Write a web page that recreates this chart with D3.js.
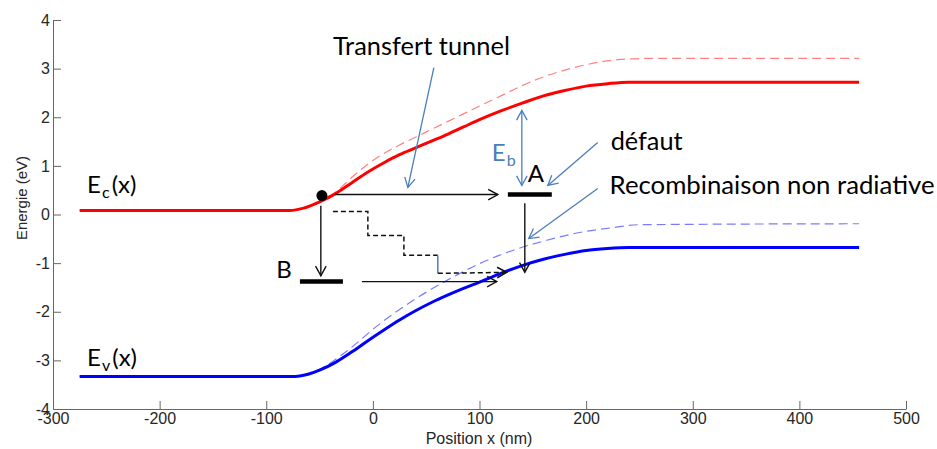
<!DOCTYPE html>
<html>
<head>
<meta charset="utf-8">
<script src="https://cdn.jsdelivr.net/npm/d3@7"></script>
<style>
  body { margin: 0; background: #fff; }
  svg { display: block; }
</style>
</head>
<body>
<svg id="chart" width="937" height="449"></svg>
<script>
// band edges (position in nm, energy in eV)
const ecPos = [-275, -78, -65, -50, -35, -20, -5, 10, 25, 40, 55, 70, 85, 100, 120, 140, 160, 180, 200, 220, 240, 456]
const ecVal = [0.08, 0.08, 0.13, 0.26, 0.43, 0.65, 0.87, 1.06, 1.23, 1.37, 1.51, 1.65, 1.80, 1.95, 2.13, 2.29, 2.44, 2.55, 2.64, 2.69, 2.72, 2.72]

const ecDashPos = [-275, -78, -65, -47, -35, -20, -5, 10, 25, 40, 55, 70, 85, 100, 120, 140, 160, 180, 200, 220, 240, 260, 456]
const ecDashVal = [0.08, 0.08, 0.13, 0.30, 0.46, 0.76, 1.03, 1.25, 1.43, 1.59, 1.75, 1.91, 2.07, 2.23, 2.44, 2.65, 2.83, 2.97, 3.08, 3.16, 3.20, 3.21, 3.21]

const evPos = [-275, -73, -60, -50, -35, -20, -5, 10, 25, 40, 55, 70, 85, 100, 120, 140, 160, 180, 200, 220, 240, 456]
const evVal = [-3.33, -3.33, -3.28, -3.20, -3.04, -2.83, -2.60, -2.38, -2.17, -1.98, -1.81, -1.66, -1.52, -1.39, -1.21, -1.05, -0.92, -0.82, -0.74, -0.70, -0.68, -0.68]

const evDashPos = [-275, -73, -60, -47, -24, 7, 37.5, 69, 100, 131, 163, 194, 225, 250, 456]
const evDashVal = [-3.33, -3.33, -3.27, -3.15, -2.80, -2.24, -1.77, -1.36, -1.01, -0.74, -0.53, -0.37, -0.27, -0.21, -0.19]

const xTicks = [-300, -200, -100, 0, 100, 200, 300, 400, 500]
const yTicks = [-4, -3, -2, -1, 0, 1, 2, 3, 4]

// annotation geometry, in data units
const ball = [-47.8, 0.39]
const levelA = [[126.6, 0.41], [167.8, 0.41]]
const levelB = [[-68.4, -1.38], [-28.1, -1.38]]
const blackArrows = [
  [[-35.6, 0.41], [117.2, 0.41]],     // tunnel to A
  [[-48.8, 0.18], [-48.8, -1.26]],    // down to B
  [[142.5, 0.23], [142.5, -1.19]],    // A down to Ev
  [[-10.3, -1.38], [116.2, -1.38]]    // B to Ev
]
const stairs = [[-37.5, 0.06], [-4.7, 0.06], [-4.7, -0.43], [29.1, -0.43], [29.1, -0.84], [60.9, -0.84]]
const stairsEnd = [[60.9, -1.21], [125.6, -1.19]]
const stairsBlue = [[60.9, -0.84], [60.9, -1.21]]
const pointers = [
  [[57.2, 3.02], [32.8, 0.556]],
  [[210.9, 1.48], [164.1, 0.597]],
  [[210.9, 0.535], [146.2, -0.494]]
]
const ebArrow = [[139.7, 2.14], [139.7, 0.597]]

const svg = d3.select("#chart")
const x = d3.scaleLinear().domain([-300, 500]).range([53, 906])
const y = d3.scaleLinear().domain([-4, 4]).range([409, 20])

const axisColor = "#666"
const textColor = "#262626"
const blue = "#4a7ebb"
const axisFont = "'Liberation Sans', Arial, sans-serif"

// axes, left and bottom only
svg.append("g")
  .attr("transform", "translate(0,409)")
  .call(d3.axisBottom(x).tickValues(xTicks).tickFormat(d => String(d))
    .tickSizeInner(-8).tickSizeOuter(0))
  .call(g => {
    g.select(".domain").attr("stroke", axisColor)
    g.selectAll(".tick line").attr("stroke", axisColor)
    g.selectAll(".tick text").attr("fill", textColor)
      .attr("font-family", axisFont).attr("font-size", 16)
      .attr("dy", "0.71em").attr("y", 4)
  })

svg.append("g")
  .attr("transform", "translate(53,0)")
  .call(d3.axisLeft(y).tickValues(yTicks).tickFormat(d => String(d))
    .tickSizeInner(-8).tickSizeOuter(0))
  .call(g => {
    g.select(".domain").attr("stroke", axisColor)
    g.selectAll(".tick line").attr("stroke", axisColor)
    g.selectAll(".tick text").attr("fill", textColor)
      .attr("font-family", axisFont).attr("font-size", 16)
      .attr("x", -3)
  })

svg.append("text")
  .attr("transform", "translate(27,198) rotate(-90)")
  .attr("text-anchor", "middle")
  .attr("fill", textColor)
  .attr("font-family", axisFont).attr("font-size", 15)
  .text("Energie (eV)")

svg.append("text")
  .attr("x", 479).attr("y", 444)
  .attr("text-anchor", "middle")
  .attr("fill", textColor)
  .attr("font-family", axisFont).attr("font-size", 16)
  .text("Position x (nm)")

// band curves
const line = d3.line().x(d => x(d[0])).y(d => y(d[1])).curve(d3.curveMonotoneX)
const zip = (a, b) => a.map((v, i) => [v, b[i]])

svg.append("path").datum(zip(ecDashPos, ecDashVal))
  .attr("d", line).attr("fill", "none")
  .attr("stroke", "#ff8080").attr("stroke-width", 1.2).attr("stroke-dasharray", "9,5")
svg.append("path").datum(zip(evDashPos, evDashVal))
  .attr("d", line).attr("fill", "none")
  .attr("stroke", "#7a7aff").attr("stroke-width", 1.2).attr("stroke-dasharray", "9,5")
svg.append("path").datum(zip(ecPos, ecVal))
  .attr("d", line).attr("fill", "none")
  .attr("stroke", "#ff0000").attr("stroke-width", 3)
svg.append("path").datum(zip(evPos, evVal))
  .attr("d", line).attr("fill", "none")
  .attr("stroke", "#0000ff").attr("stroke-width", 3)

// helpers for the annotation arrows
function head(g, p, q, color, w) {
  let x1 = x(p[0]), y1 = y(p[1]), x2 = x(q[0]), y2 = y(q[1])
  let a = Math.atan2(y2 - y1, x2 - x1), len = 11, s = 0.5
  let pa = [x2 - len * Math.cos(a - s), y2 - len * Math.sin(a - s)]
  let pb = [x2 - len * Math.cos(a + s), y2 - len * Math.sin(a + s)]
  g.append("path")
    .attr("d", `M${pa[0]},${pa[1]}L${x2},${y2}L${pb[0]},${pb[1]}`)
    .attr("fill", "none").attr("stroke", color).attr("stroke-width", w)
}
function arrow(g, seg, color, w, both) {
  g.append("line")
    .attr("x1", x(seg[0][0])).attr("y1", y(seg[0][1]))
    .attr("x2", x(seg[1][0])).attr("y2", y(seg[1][1]))
    .attr("stroke", color).attr("stroke-width", w)
  head(g, seg[0], seg[1], color, w)
  if (both) head(g, seg[1], seg[0], color, w)
}

const ann = svg.append("g")
const flat = d3.line().x(d => x(d[0])).y(d => y(d[1]))

ann.append("path").datum(stairs).attr("d", flat)
  .attr("fill", "none").attr("stroke", "#111").attr("stroke-width", 1.5).attr("stroke-dasharray", "5,3")
ann.append("path").datum(stairsBlue).attr("d", flat)
  .attr("fill", "none").attr("stroke", blue).attr("stroke-width", 1.5)
ann.append("path").datum(stairsEnd).attr("d", flat)
  .attr("fill", "none").attr("stroke", "#111").attr("stroke-width", 1.5).attr("stroke-dasharray", "5,3")
head(ann, stairsEnd[0], stairsEnd[1], "#111", 1.5)

blackArrows.forEach(s => arrow(ann, s, "#111", 1.4, false))
pointers.forEach(s => arrow(ann, s, blue, 1.3, false))
arrow(ann, ebArrow, blue, 1.3, true)

;[levelA, levelB].forEach(l => {
  ann.append("path").datum(l).attr("d", flat)
    .attr("stroke", "#000").attr("stroke-width", 4.5)
})

ann.append("circle")
  .attr("cx", x(ball[0])).attr("cy", y(ball[1])).attr("r", 5.5)
  .attr("fill", "#000")

// labels
const lab = "Lato, 'Open Sans', sans-serif"
function label(pos, txt, size, width, anchor) {
  let t = svg.append("text")
    .attr("x", x(pos[0])).attr("y", y(pos[1]))
    .attr("text-anchor", anchor || "start")
    .attr("fill", "#000")
    .style("font-family", lab).style("font-size", size + "px")
    .text(txt)
  if (width) t.attr("textLength", width).attr("lengthAdjust", "spacingAndGlyphs")
  return t
}
label([-37.5, 3.29], "Transfert tunnel", 25, 177)
label([223, 1.32], "défaut", 25, 72)
label([222, 0.43], "Recombinaison non radiative", 25, 325)
label([152.8, 0.66], "A", 24, null, "middle")
label([-83.4, -1.30], "B", 24, null, "middle")

function subLabel(pos, main, sub, rest, color) {
  let t = svg.append("text")
    .attr("x", x(pos[0])).attr("y", y(pos[1]))
    .attr("fill", color)
    .style("font-family", lab).style("font-size", "24px")
  t.append("tspan").text(main)
  t.append("tspan").attr("dy", 5).attr("dx", 1).style("font-size", "16px").text(sub)
  if (rest) t.append("tspan").attr("dy", -5).attr("dx", 2).text(rest)
}
subLabel([-268, 0.45], "E", "c", "(x)", "#000")
subLabel([-268, -3.11], "E", "v", "(x)", "#000")
subLabel([111.6, 1.09], "E", "b", null, blue)
</script>
</body>
</html>
